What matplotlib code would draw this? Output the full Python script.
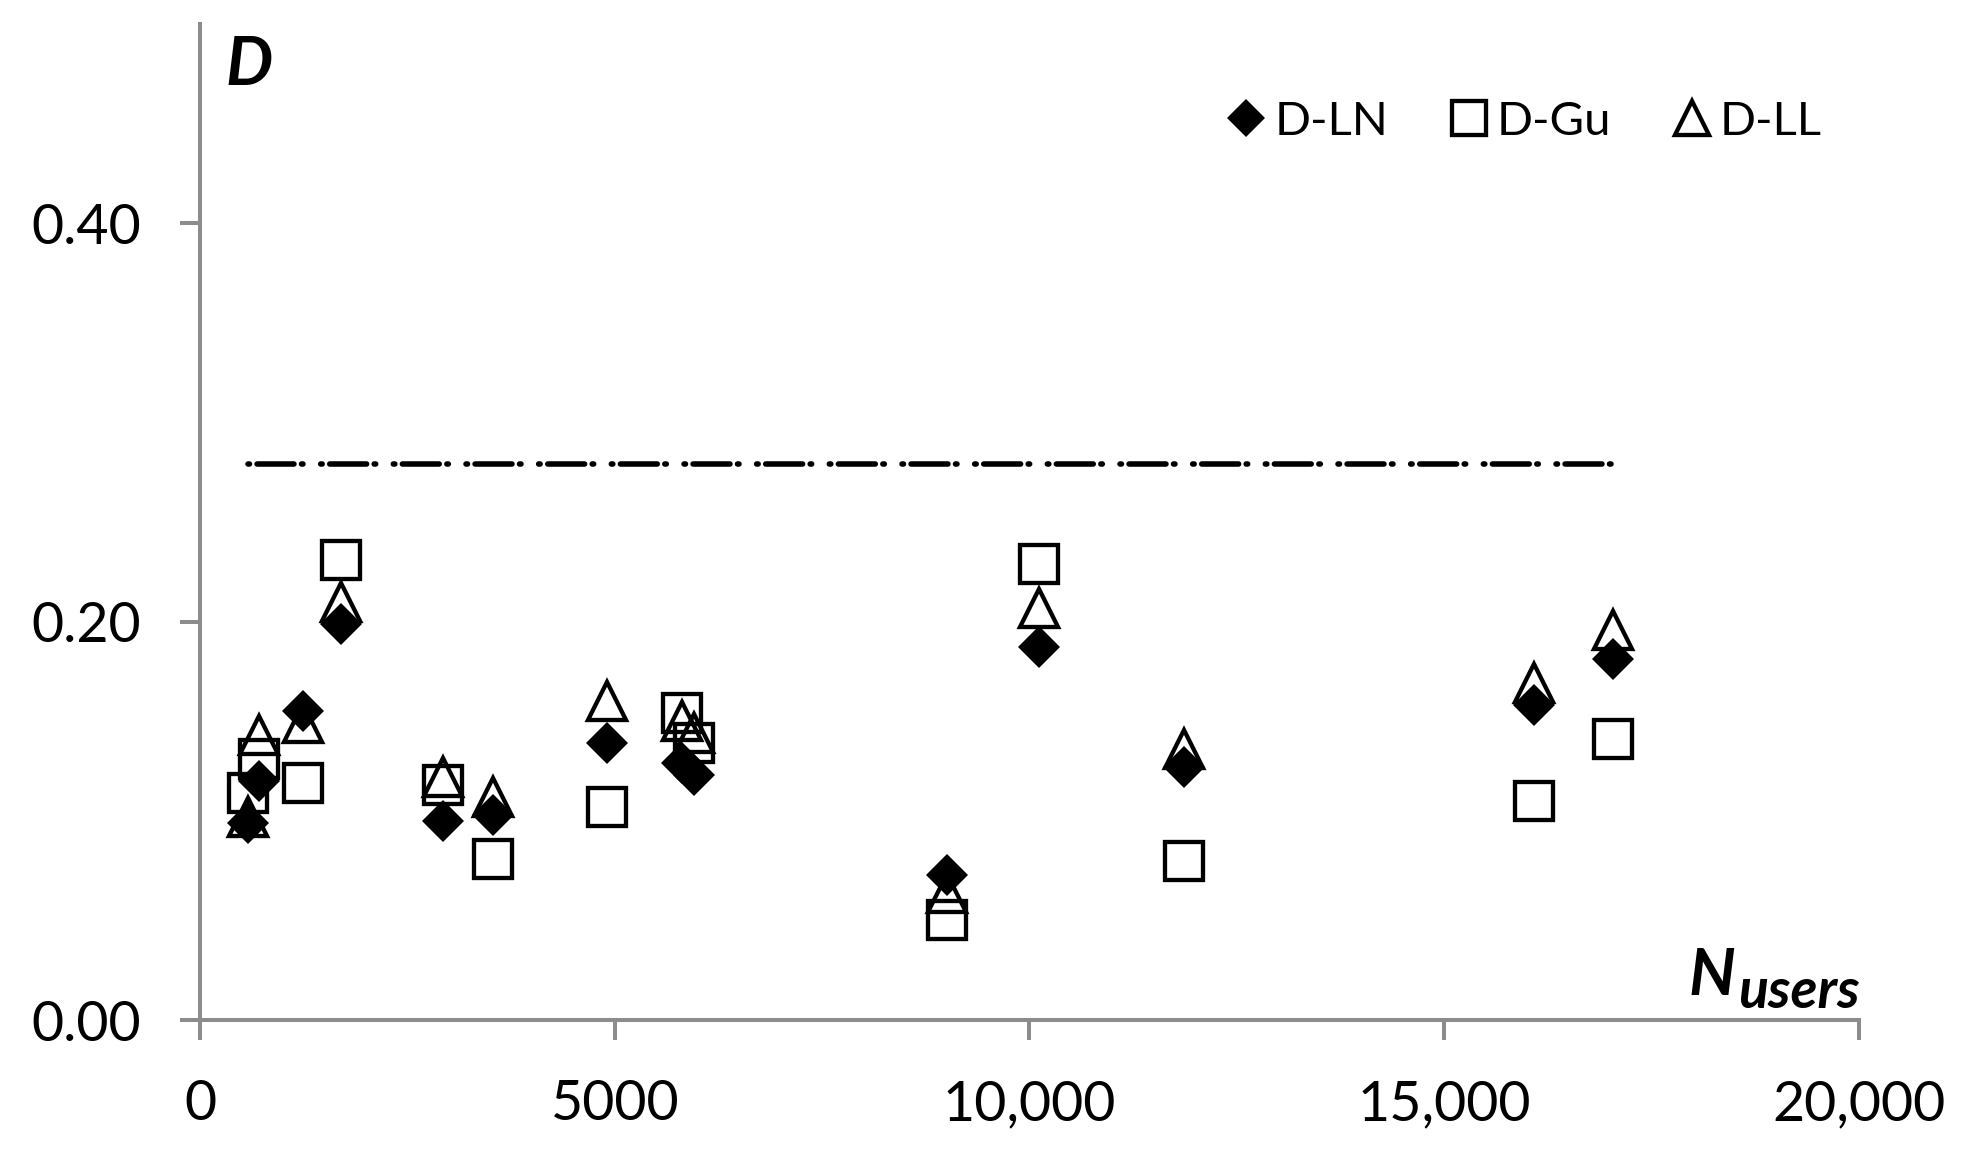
import matplotlib
matplotlib.use("Agg")
import matplotlib.pyplot as plt

# number of users in each sample
n_users = [575, 714, 1240, 1700, 2925, 3535, 4910, 5810, 5955, 9010, 10120, 11860, 16080, 17035]
# D statistic for each fitted distribution
d_ln = [0.099, 0.120, 0.155, 0.199, 0.100, 0.103, 0.139, 0.129, 0.123, 0.073, 0.187, 0.127, 0.158, 0.181]
d_gu = [0.114, 0.131, 0.119, 0.231, 0.118, 0.081, 0.107, 0.154, 0.139, 0.050, 0.229, 0.080, 0.110, 0.141]
d_ll = [0.102, 0.143, 0.149, 0.210, 0.122, 0.112, 0.160, 0.150, 0.144, 0.064, 0.207, 0.136, 0.169, 0.196]

# critical value line
crit_x = [575, 17035]
crit_d = [0.279, 0.279]

x_ticks = [0, 5000, 10000, 15000, 20000]
x_labels = ["0", "5000", "10,000", "15,000", "20,000"]
y_ticks = [0.0, 0.2, 0.4]
y_labels = ["0.00", "0.20", "0.40"]

plt.rcParams['font.family'] = ['Lato', 'DejaVu Sans']
grey = '#8c8c8c'

fig = plt.figure(figsize=(19.68, 11.57), dpi=100)
ax = fig.add_axes([0.1016, 0.1184, 0.843, 0.8609])

ax.plot(crit_x, crit_d, color='black', lw=4,
        linestyle=(0, (0.27, 1.36, 6.64, 1.36, 0.27, 3.18)), dash_capstyle='round')

ax.plot(n_users, d_ln, ls='none', marker='D', ms=21.4, mfc='black', mec='black', mew=0, label='D-LN')
ax.plot(n_users, d_gu, ls='none', marker='s', ms=27.2, mfc='none', mec='black', mew=3.1, label='D-Gu')
ax.plot(n_users, d_ll, ls='none', marker='^', ms=27, mfc='none', mec='black', mew=3.1, label='D-LL')

ax.set_xlim(0, 20000)
ax.set_ylim(0, 0.5)
for s in ['top', 'right']:
    ax.spines[s].set_visible(False)
for s in ['left', 'bottom']:
    ax.spines[s].set_color(grey)
    ax.spines[s].set_linewidth(2.9)
ax.set_xticks(x_ticks, x_labels)
ax.set_yticks(y_ticks, y_labels)
ax.tick_params(axis='both', direction='out', length=14.4, width=2.9, color=grey, labelsize=40)
ax.tick_params(axis='x', pad=28)
ax.tick_params(axis='y', pad=28)

fig.text(225/1968, 1 - 85/1157, 'D', fontsize=48, fontweight='bold', fontstyle='italic',
         ha='left', va='baseline')
fig.text(1688/1968, 1 - 995/1157, 'N', fontsize=47, fontweight='bold', fontstyle='italic',
         ha='left', va='baseline')
fig.text(1738/1968, 1 - 1008/1157, 'users', fontsize=40, fontweight='bold', fontstyle='italic',
         ha='left', va='baseline')

ax.legend(loc='center right', bbox_to_anchor=(1822/1968, 1 - 122/1157), bbox_transform=fig.transFigure,
          ncol=3, frameon=False, fontsize=34, markerscale=0.9, handlelength=0.8,
          handletextpad=0.2, columnspacing=1.3, borderpad=0, borderaxespad=0)

fig.savefig('out.png', dpi=100)
